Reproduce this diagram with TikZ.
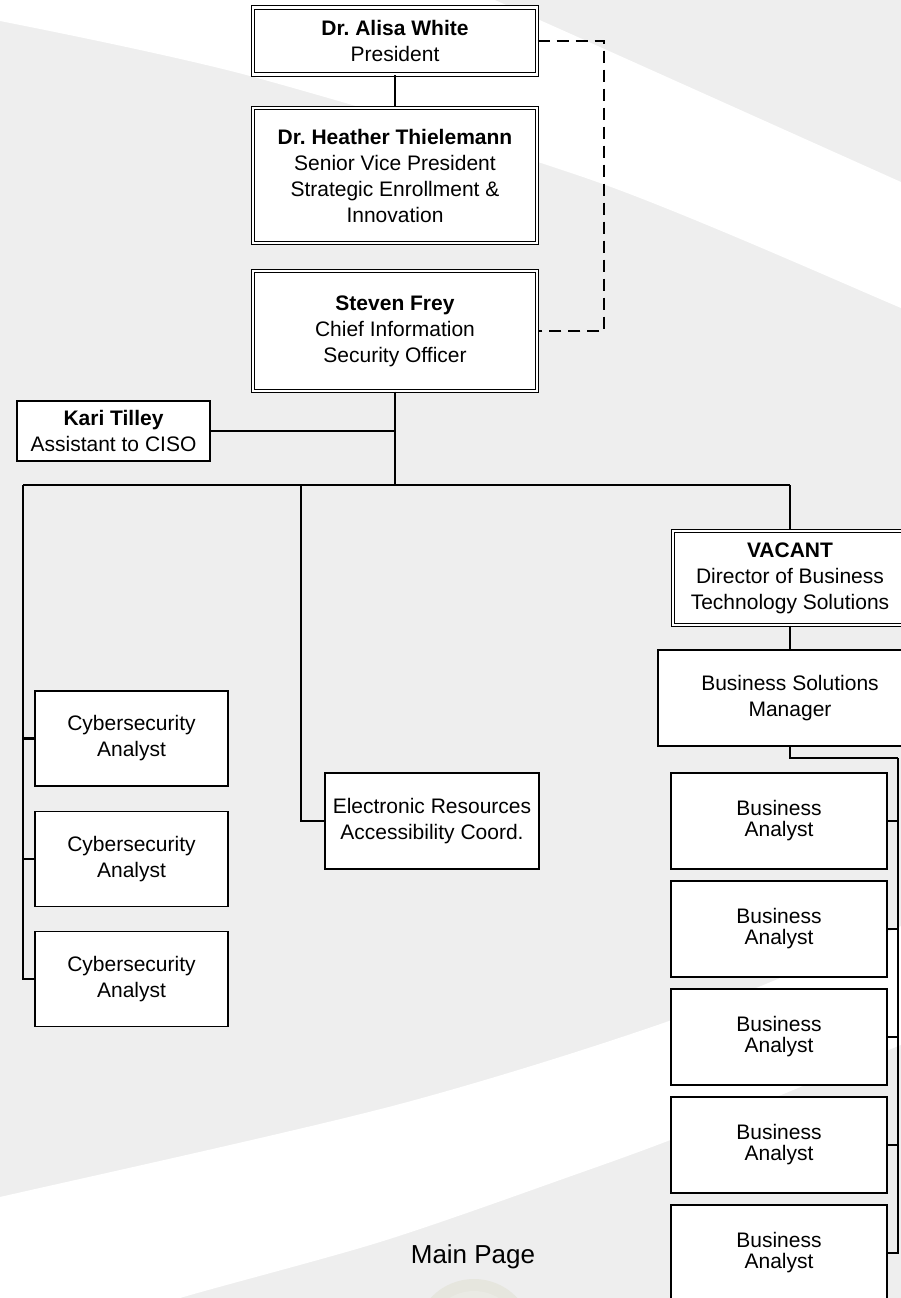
\documentclass[tikz,border=0pt]{standalone}
\usepackage{fontspec}
\setmainfont{Liberation Sans}
\frenchspacing
\definecolor{bggray}{HTML}{EEEEEE}
\definecolor{circa}{HTML}{E6E6DE}
\definecolor{circb}{HTML}{EAEAE4}
\begin{document}
\begin{tikzpicture}[x=1pt,y=-1pt,
  conn/.style={line width=1.3pt, draw=black},
  heavy/.style={line width=2.2pt},
  dashconn/.style={line width=1.3pt, draw=black, dash pattern=on 12pt off 7pt},
  dbox/.style={draw=black, line width=1.2pt, double=white, double distance=2.4pt, fill=white, align=center, inner sep=0pt, font=\fontsize{21}{26}\selectfont},
  sbox/.style={draw=black, line width=1.4pt, fill=white, align=center, inner sep=0pt, font=\fontsize{21}{26}\selectfont},
  babox/.style={sbox, minimum width=216pt, minimum height=96pt, font=\fontsize{21}{21}\selectfont},
  cybox/.style={sbox, minimum width=193pt, minimum height=95pt}]
\useasboundingbox (0,0) rectangle (901,1298);
\clip (0,0) rectangle (901,1298);
% background
\fill[bggray] (0,0) rectangle (901,1298);
\fill[white] (-20,-20) -- (-20,17) -- plot[smooth] coordinates {(0,21) (250,76) (600,183) (901,308) (960,335)} -- (960,208) -- plot[smooth] coordinates {(960,208) (901,182) (600,47) (450,-20)} -- cycle;
\fill[white] plot[smooth] coordinates {(-20,1201) (0,1197) (400,1104) (700,1010) (960,900)} -- (960,1020) -- plot[smooth] coordinates {(960,1020) (701,1128) (560,1180) (380,1242) (180,1298) (100,1325)} -- (-20,1330) -- cycle;
\fill[circa] (474,1338) circle (59);
\fill[circb] (474,1338) circle (47);
% nodes
\node[dbox, minimum width=284pt, minimum height=67pt] (pres) at (395,41) {\textbf{Dr. Alisa White}\\President};
\node[dbox, minimum width=284pt, minimum height=135pt] (heather) at (395,175.5) {\textbf{Dr. Heather Thielemann}\\Senior Vice President\\Strategic Enrollment \&\\Innovation};
\node[dbox, minimum width=284pt, minimum height=120pt] (ciso) at (395,331) {\textbf{Steven Frey}\\Chief Information\\Security Officer};
\node[sbox, minimum width=193pt, minimum height=60pt] (kari) at (113.5,431) {\textbf{Kari Tilley}\\Assistant to CISO};
\node[dbox, minimum width=234pt, minimum height=94pt] (vacant) at (790,578) {\textbf{VACANT}\\Director of Business\\Technology Solutions};
\node[sbox, minimum width=264pt, minimum height=96pt] (bsm) at (790,698) {Business Solutions\\Manager};
\node[cybox] (cy1) at (131.5,738.5) {Cybersecurity\\Analyst};
\node[cybox] (cy2) at (131.5,859) {Cybersecurity\\Analyst};
\node[cybox] (cy3) at (131.5,979) {Cybersecurity\\Analyst};
\node[sbox, minimum width=214pt, minimum height=96pt] (elec) at (432,821) {Electronic Resources\\Accessibility Coord.};
\node[babox] (ba1) at (779,821) {Business\\Analyst};
\node[babox] (ba2) at (779,929) {Business\\Analyst};
\node[babox] (ba3) at (779,1037) {Business\\Analyst};
\node[babox] (ba4) at (779,1145) {Business\\Analyst};
\node[babox] (ba5) at (779,1253) {Business\\Analyst};
\node[anchor=base, font=\fontsize{26}{30}\selectfont] (mainpage) at (473,1263) {Main Page};
% coordinates
\coordinate (dtop) at (604,41);
\coordinate (dbot) at (604,331);
\coordinate (busC) at (395,485);
\coordinate (busL) at (23,485);
\coordinate (busE) at (301,485);
\coordinate (busR) at (790,485);
\coordinate (baTop) at (898,758);
% connectors
\draw[conn] (pres.south) -- (heather.north);
\draw[dashconn] (pres.east) -- (dtop) -- (dbot) -- (ciso.east);
\draw[conn, heavy] (ciso.south) -- (busC);
\draw[conn] (kari.east) -- (kari.east -| busC);
\draw[conn, heavy] (busL) -- (busC);
\draw[conn] (busC) -- (busR);
\draw[conn, heavy] (busL) |- (cy1.west);
\draw[conn, heavy] (busL) |- (cy2.west);
\draw[conn] (busL) |- (cy3.west);
\draw[conn] (busE) |- (elec.west);
\draw[conn] (busR) -- (vacant.north);
\draw[conn] (vacant.south) -- (bsm.north);
\draw[conn] (bsm.south) |- (baTop);
\foreach \b in {ba1,ba2,ba3,ba4,ba5} {\draw[conn] (baTop) |- (\b.east);}
\end{tikzpicture}
\end{document}
